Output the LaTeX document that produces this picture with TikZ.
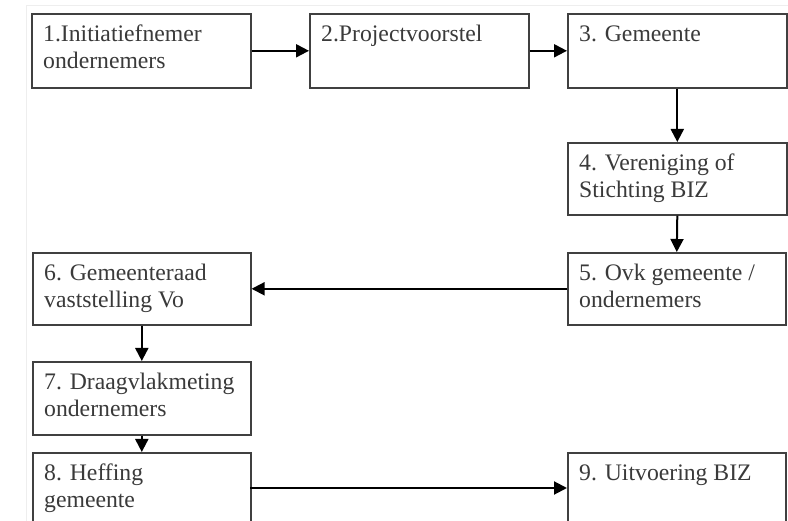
\documentclass[tikz,border=0pt]{standalone}
\usepackage{fontspec}
\setmainfont{Liberation Serif}
\usetikzlibrary{arrows.meta}
\definecolor{txt}{HTML}{3A3A3A}
\definecolor{frame}{HTML}{404040}
\definecolor{page}{HTML}{EEEEEE}
\tikzset{
  x=1pt, y=-1pt,
  stepbox/.style={draw=frame, line width=1.6pt, rectangle, inner sep=0pt, anchor=north west},
  boxtext/.style={anchor=base west, inner sep=0pt, text=txt, font=\fontsize{23.7pt}{27.5pt}\selectfont},
  conn/.style={line width=2pt, -{Triangle[length=13pt, width=13pt]}},
}
\newcommand{\flowbox}[6]{%
  \node[stepbox, minimum width=#4pt, minimum height=#5pt] (#1) at (#2,#3) {};
  \node[boxtext] (#1t) at (#2+12,#3+28.5) {\begin{tabular}[t]{@{}l@{}}#6\end{tabular}};
}
\begin{document}
\begin{tikzpicture}
\clip (0,0) rectangle (788,521);
\fill[white] (0,0) rectangle (788,521);
\draw[page, line width=1pt] (26.5,560) -- (26.5,6) -- (800,6);
\flowbox{b1}{31}{13}{219}{74}{1.Initiatiefnemer\\ondernemers}
\flowbox{b2}{309}{13}{219}{74}{2.Projectvoorstel}
\flowbox{b3}{567}{13}{219}{74}{3. Gemeente}
\flowbox{b4}{567}{142}{219}{72}{4. Vereniging of\\Stichting BIZ}
\flowbox{b5}{567}{252}{218}{72}{5. Ovk gemeente /\\ondernemers}
\flowbox{b6}{32}{252}{218}{72}{6. Gemeenteraad\\vaststelling Vo}
\flowbox{b7}{32}{361}{218}{73}{7. Draagvlakmeting\\ondernemers}
\flowbox{b8}{32}{452}{218}{100}{8. Heffing\\gemeente}
\flowbox{b9}{567}{452}{218}{100}{9. Uitvoering BIZ}
\draw[conn] (b1.east) -- (b2.west);
\draw[conn] (b2.east) -- (b3.west);
\draw[conn] (b3.south) -- (b4.north);
\draw[conn] (b4.south) -- (b5.north);
\draw[conn] (b5.west) -- (b6.east);
\draw[conn] (b6.south) -- (b7.north);
\draw[conn] (b7.south) -- (b8.north);
\coordinate (c8) at (250,488);
\coordinate (c9) at (567,488);
\draw[conn] (c8) -- (c9);
\end{tikzpicture}
\end{document}
